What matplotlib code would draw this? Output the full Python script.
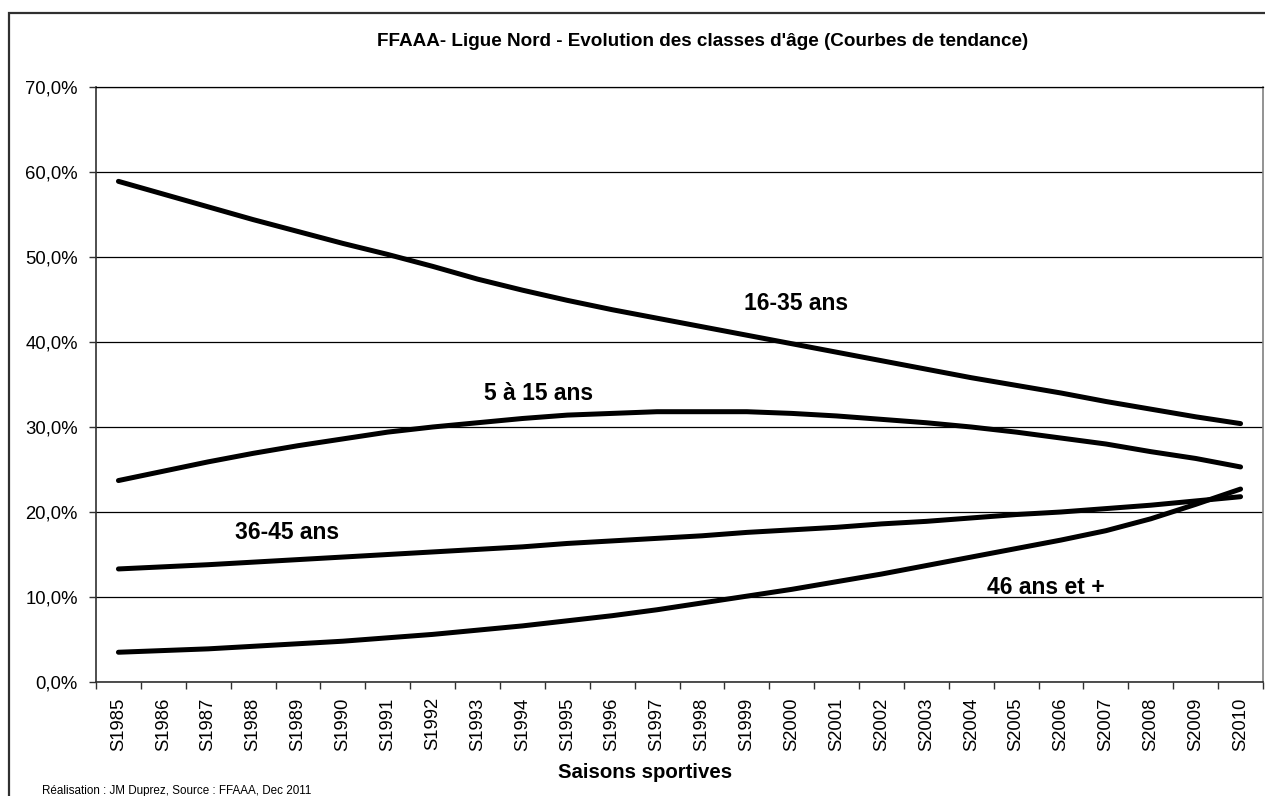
import matplotlib
matplotlib.use("Agg")
import matplotlib.pyplot as plt
from matplotlib.patches import Rectangle
import numpy as np

plt.rcParams['font.family'] = ['Liberation Sans', 'DejaVu Sans']

# saisons
saisons = ['S1985', 'S1986', 'S1987', 'S1988', 'S1989', 'S1990', 'S1991', 'S1992',
           'S1993', 'S1994', 'S1995', 'S1996', 'S1997', 'S1998', 'S1999', 'S2000',
           'S2001', 'S2002', 'S2003', 'S2004', 'S2005', 'S2006', 'S2007', 'S2008',
           'S2009', 'S2010']

# courbes de tendance (en %)
ans_16_35 = [58.9, 57.4, 55.9, 54.4, 53.0, 51.6, 50.3, 48.9, 47.4, 46.1, 44.9, 43.8, 42.8,
             41.8, 40.8, 39.8, 38.8, 37.8, 36.8, 35.8, 34.9, 34.0, 33.0, 32.1, 31.2, 30.4]
ans_5_15 = [23.7, 24.8, 25.9, 26.9, 27.8, 28.6, 29.4, 30.0, 30.5, 31.0, 31.4, 31.6, 31.8,
            31.8, 31.8, 31.6, 31.3, 30.9, 30.5, 30.0, 29.4, 28.7, 28.0, 27.1, 26.3, 25.3]
ans_36_45 = [13.3, 13.55, 13.8, 14.1, 14.4, 14.7, 15.0, 15.3, 15.6, 15.9, 16.3, 16.6, 16.9,
             17.2, 17.6, 17.9, 18.2, 18.6, 18.9, 19.3, 19.7, 20.0, 20.4, 20.8, 21.3, 21.8]
ans_46_plus = [3.5, 3.7, 3.9, 4.2, 4.5, 4.8, 5.2, 5.6, 6.1, 6.6, 7.2, 7.8, 8.5,
               9.3, 10.1, 10.9, 11.8, 12.7, 13.7, 14.7, 15.7, 16.7, 17.8, 19.2, 20.9, 22.7]

y_ticks = [0, 10, 20, 30, 40, 50, 60, 70]
y_labels = ['0,0%', '10,0%', '20,0%', '30,0%', '40,0%', '50,0%', '60,0%', '70,0%']

fig = plt.figure(figsize=(12.65, 7.96), dpi=100)
ax = fig.add_axes([96/1265, 1 - 682/796, (1263 - 96)/1265, (682 - 87)/796])

x = np.arange(len(saisons))
for serie in [ans_16_35, ans_5_15, ans_36_45, ans_46_plus]:
    ax.plot(x, serie, color='black', lw=3.6, solid_capstyle='round', zorder=3)

# étiquettes des courbes
lbl = dict(fontsize=16.5, fontweight='bold', ha='center', va='center')
ax.text(15.1, 44.5, '16-35 ans', **lbl)
ax.text(9.37, 33.9, '5 à 15 ans', **lbl)
ax.text(3.76, 17.6, '36-45 ans', **lbl)
ax.text(20.67, 11.15, '46 ans et +', **lbl)

ax.set_xlim(-0.5, len(saisons) - 0.5)
ax.set_ylim(0, 70)
ax.set_yticks(y_ticks)
ax.set_yticklabels(y_labels, fontsize=13.3)
ax.set_xticks(x)
ax.set_xticklabels(saisons, rotation=90, fontsize=13.3)
ax.set_xticks(np.arange(len(saisons) + 1) - 0.5, minor=True)
ax.tick_params(axis='x', which='major', length=0, pad=11)
ax.tick_params(axis='x', which='minor', length=5, width=1, color='#303030')
ax.tick_params(axis='y', length=5, width=1, color='#303030', pad=8)

ax.grid(axis='y', color='black', lw=0.9)
ax.set_axisbelow(True)
for s in ['left', 'bottom']:
    ax.spines[s].set_color('#303030')
    ax.spines[s].set_linewidth(1.2)
ax.spines['right'].set_color('#808080')
ax.spines['right'].set_linewidth(1.2)
ax.spines['top'].set_color('black')
ax.spines['top'].set_linewidth(0.9)

fig.text(703/1265, 1 - 42/796, "FFAAA- Ligue Nord - Evolution des classes d'âge (Courbes de tendance)",
         fontsize=13.6, fontweight='bold', ha='center', va='center')
fig.text(645/1265, 1 - 773/796, 'Saisons sportives', fontsize=14.7, fontweight='bold',
         ha='center', va='center')
fig.text(42/1265, 1 - 791/796, 'Réalisation : JM Duprez, Source : FFAAA, Dec 2011',
         fontsize=8.4, ha='left', va='center')

fig.add_artist(Rectangle((9/1265, -0.1), 1.2, 1.1 - 13/796, transform=fig.transFigure,
                         fill=False, edgecolor='#303030', lw=1.6))

fig.savefig('out.png', dpi=100)
